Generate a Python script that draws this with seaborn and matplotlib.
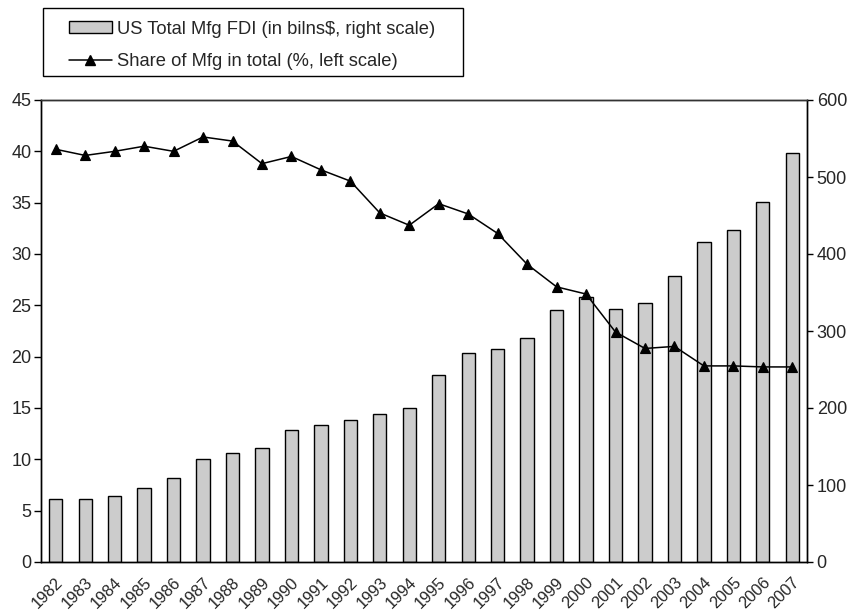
import matplotlib
matplotlib.use("Agg")
import matplotlib.pyplot as plt
from matplotlib.patches import Patch, Rectangle
from matplotlib.lines import Line2D
from matplotlib.transforms import ScaledTranslation
import numpy as np
import seaborn as sns

# Years on the category axis
years = [str(y) for y in range(1982, 2008)]

# US total manufacturing FDI, billions of dollars (right scale)
mfg_fdi = [82, 82, 86, 96, 109, 134, 142, 148, 171, 178, 184, 192, 200,
           243, 271, 277, 291, 327, 344, 329, 337, 371, 416, 431, 468, 531]

# Share of manufacturing in total FDI, percent (left scale)
mfg_share = [40.2, 39.6, 40.0, 40.5, 40.0, 41.4, 41.0, 38.8, 39.5, 38.2,
             37.1, 34.0, 32.8, 34.9, 33.9, 32.0, 29.0, 26.8, 26.1, 22.4,
             20.8, 21.0, 19.1, 19.1, 19.0, 19.0]

left_ticks = [0, 5, 10, 15, 20, 25, 30, 35, 40, 45]
right_ticks = [0, 100, 200, 300, 400, 500, 600]

bar_label = "US Total Mfg FDI (in bilns$, right scale)"
line_label = "Share of Mfg in total (%, left scale)"

sns.set_style("white")
plt.rcParams["font.family"] = ["Liberation Sans", "DejaVu Sans"]

W, H = 853, 613
fig = plt.figure(figsize=(W / 100, H / 100), dpi=100)
ax = fig.add_axes([41 / W, 1 - 562 / H, 766 / W, 462 / H])
ax2 = ax.twinx()

# Bars on the right-hand scale
sns.barplot(x=years, y=mfg_fdi, ax=ax2, color="#cccccc", saturation=1,
            edgecolor="black", linewidth=1.0, width=0.45)

# Share line on the left-hand scale, drawn above the bars
sns.pointplot(x=years, y=mfg_share, ax=ax, color="black", markers="^",
              linestyles="-", errorbar=None, linewidth=1.1, markersize=7)
ax.set_zorder(ax2.get_zorder() + 1)
ax.patch.set_visible(False)

n = len(years)
ax.set_xlim(-0.5, n - 0.5)
ax.set_ylim(0, 45)
ax2.set_ylim(0, 600)
ax.set_yticks(left_ticks)
ax2.set_yticks(right_ticks)

# Year labels centred under bars, tick marks between categories
ax.set_xticks(np.arange(n))
ax.set_xticklabels(years, rotation=45, ha="right", va="center",
                   rotation_mode="anchor")
ax.tick_params(axis="x", which="major", length=0, pad=13, labelsize=11.8)
shift = ScaledTranslation(5 / 100, 0, fig.dpi_scale_trans)
for lbl in ax.get_xticklabels():
    lbl.set_transform(lbl.get_transform() + shift)
ax.set_xticks(np.arange(n + 1) - 0.5, minor=True)
ax.tick_params(axis="x", which="minor", direction="inout", length=7.5,
               width=1, color="black")

ax.tick_params(axis="y", which="major", direction="out", length=5,
               width=1, color="black", labelsize=13, pad=2)
ax2.tick_params(axis="y", which="major", direction="out", length=4.5,
                width=1, color="black", labelsize=13, pad=2.5)

for a in (ax, ax2):
    a.set_xlabel("")
    a.set_ylabel("")
    for s in a.spines.values():
        s.set_color("black")
        s.set_linewidth(1.0)
ax.spines["top"].set_color("#333333")

# Legend box in the upper-left corner
fig.patches.append(Rectangle((42.7 / W, 1 - 76 / H), (463 - 42.7) / W,
                             (76 - 8.3) / H, transform=fig.transFigure,
                             facecolor="white", edgecolor="black",
                             linewidth=1.0))
handles = [
    Patch(facecolor="#cccccc", edgecolor="black", linewidth=1.0),
    Line2D([], [], color="black", marker="^", markersize=7, linewidth=1.1),
]
fs = 13.2
leg = fig.legend(handles, [bar_label, line_label], loc="upper left",
                 bbox_to_anchor=(69 / W, 1 - 20.5 / H),
                 borderaxespad=0, borderpad=0, frameon=False,
                 fontsize=fs, handlelength=43 / (fs * 100 / 72),
                 handleheight=0.55, handletextpad=0.25, labelspacing=0.85)

fig.savefig("out.png", dpi=100)
